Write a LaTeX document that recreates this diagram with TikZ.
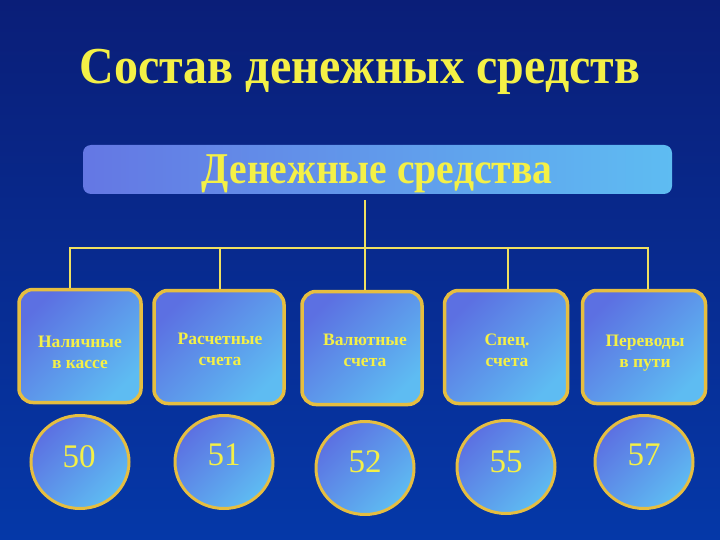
\documentclass[tikz,border=0pt]{standalone}
\usepackage{fontspec}
\setmainfont{Liberation Serif}
\usetikzlibrary{shapes.geometric}
\definecolor{bgtop}{HTML}{0A1E78}
\definecolor{bgbot}{HTML}{0538A8}
\definecolor{gold}{HTML}{E6BE40}
\definecolor{ytext}{HTML}{F4F046}
\definecolor{fillA}{HTML}{5C70E2}
\definecolor{fillB}{HTML}{5EBCF2}
\definecolor{linecol}{HTML}{F0E060}
\tikzset{
  catbox/.style={draw=gold, line width=3.5pt, rounded corners=14pt,
    left color=fillA, right color=fillB, shading angle=45,
    minimum width=122pt, minimum height=113pt, inner sep=0pt},
  numell/.style={ellipse, draw=gold, line width=3pt,
    left color=fillA, right color=fillB, shading angle=45,
    minimum width=98pt, minimum height=93pt, inner sep=0pt},
  boxtxt/.style={text=ytext, font=\fontsize{17.5}{21}\selectfont\bfseries, align=center},
  numtxt/.style={text=ytext, font=\fontsize{33}{36}\selectfont},
  conn/.style={draw=linecol, line width=2pt}
}
\begin{document}
\begin{tikzpicture}[x=1pt,y=-1pt]
\shade[top color=bgtop, bottom color=bgbot] (0,0) rectangle (720,540);
\useasboundingbox (0,0) rectangle (720,540);
% title
\node[text=ytext, font=\fontsize{48}{52}\selectfont\bfseries, yscale=1.08] (title) at (360,72) {Состав денежных средств};
% header
\shade[rounded corners=8pt, left color=fillA!95!white, right color=fillB] (83,145) rectangle (672,194);
\node[text=ytext, font=\fontsize{44}{48}\selectfont\bfseries, xscale=0.9] (head) at (377,174) {Денежные средства};
\coordinate (hb) at (365,200);
\coordinate (hj) at (365,248);
% boxes
\node[catbox, minimum width=122pt] (b1) at (80,346) {};
\node[catbox, minimum width=130pt] (b2) at (219,347) {};
\node[catbox, minimum width=120pt] (b3) at (362,348) {};
\node[catbox, minimum width=123pt] (b4) at (506,347) {};
\node[catbox, minimum width=123pt] (b5) at (644,347) {};
\node[boxtxt] (t1) at (80,352) {Наличные\\в кассе};
\node[boxtxt] (t2) at (220,349) {Расчетные\\счета};
\node[boxtxt] (t3) at (365,350) {Валютные\\счета};
\node[boxtxt] (t4) at (507,350) {Спец.\\счета};
\node[boxtxt] (t5) at (645,353) {Переводы\\в пути};
% connectors
\draw[conn] (hb) -- (hj);
\draw[conn] (b1.north -| 70,0) |- (hj) ;
\draw[conn] (hj) -| (b5.north -| 648,0);
\draw[conn] (b2.north -| 220,0) -- (220,248);
\draw[conn] (hj) -- (b3.north -| hj);
\draw[conn] (b4.north -| 508,0) -- (508,248);
% ellipses
\node[numell] (e1) at (80,462) {};
\node[numell] (e2) at (224,462) {};
\node[numell] (e3) at (365,468) {};
\node[numell] (e4) at (506,467) {};
\node[numell] (e5) at (644,462) {};
\node[numtxt] (n1) at (79,457) {50};
\node[numtxt] (n2) at (224,455) {51};
\node[numtxt] (n3) at (365,462) {52};
\node[numtxt] (n4) at (506,462) {55};
\node[numtxt] (n5) at (644,455) {57};
\end{tikzpicture}
\end{document}
